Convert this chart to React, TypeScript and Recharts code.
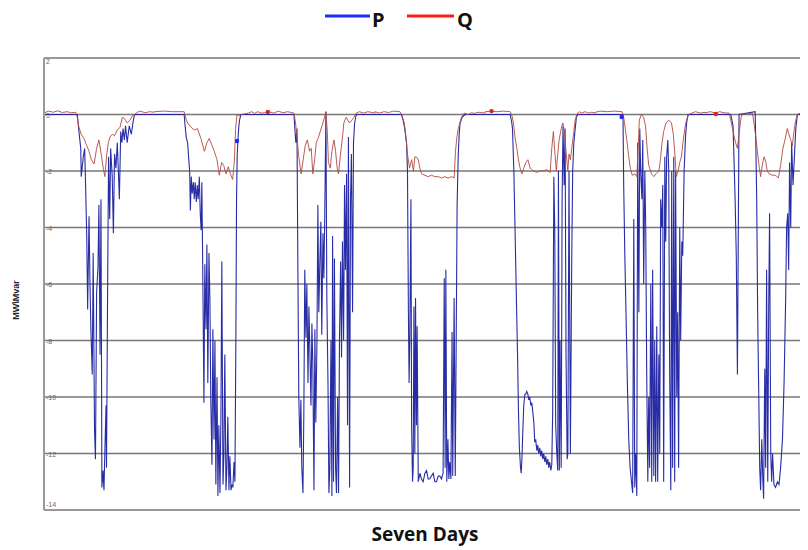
import { LineChart, Line, XAxis, YAxis, CartesianGrid, ReferenceDot } from 'recharts'

// P (MW) per day: [hour of day, value]
const pDay1 = [[0,0],[7.25,0],[7.6,-0.6],[8.0,-1.2],[8.1,-2.2],[8.55,-1.5],[8.85,-1.2],[9.05,-2.5],[9.3,-4.3],[9.5,-6.9],[9.8,-3.6],[10.0,-5.9],[10.2,-7.6],[10.5,-9.2],[10.7,-4.9],[11.0,-11.2],[11.2,-12.2],[11.45,-6.3],[11.75,-5.4],[11.95,-3.2],[12.2,-8.5],[12.4,-3.0],[12.6,-13.2],[12.85,-12.6],[13.05,-13.3],[13.25,-11.9],[13.5,-10.3],[13.6,-12.5],[13.85,-6.0],[14.05,-1.5],[14.3,-3.7],[14.5,-1.2],[14.85,-2.2],[15.1,-4.2],[15.35,-1.4],[15.65,-1.9],[15.95,-1.0],[16.25,-2.3],[16.4,-3.0],[16.7,-0.6],[16.95,-1.0],[17.2,-0.5],[17.5,-0.9],[17.75,-0.4],[18.1,-1.0],[18.55,-0.4],[19.0,-0.7],[19.45,-0.2],[19.7,0],[24,0]]
const pDay2 = [[0,0],[6.5,0],[6.65,-0.3],[6.95,-0.8],[7.25,-1.0],[7.55,-1.7],[7.7,-2.0],[7.85,-3.4],[8.05,-2.2],[8.25,-2.8],[8.5,-2.4],[8.7,-3.0],[8.9,-2.4],[9.15,-3.1],[9.35,-2.5],[9.55,-3.0],[9.8,-2.2],[10.0,-3.5],[10.2,-4.1],[10.35,-2.4],[10.6,-6.4],[10.8,-10.2],[11.0,-5.3],[11.25,-7.6],[11.45,-4.6],[11.65,-9.5],[11.9,-4.9],[12.1,-6.5],[12.3,-10.1],[12.55,-12.4],[12.75,-7.6],[13.0,-11.5],[13.2,-8.0],[13.4,-13.1],[13.65,-9.3],[13.85,-13.5],[14.05,-11.0],[14.3,-13.4],[14.5,-10.7],[14.7,-5.2],[14.95,-13.1],[15.15,-12.0],[15.35,-8.5],[15.6,-13.3],[15.8,-12.5],[16.0,-10.7],[16.25,-13.3],[16.45,-12.1],[16.7,-13.3],[16.9,-13.1],[17.1,-13.2],[17.35,-12.3],[17.55,-13.0],[17.75,-8.0],[17.9,-3.0],[18.05,-1.4],[18.2,-0.95],[18.35,-0.5],[18.55,-0.2],[18.85,0],[24,0]]
const pDay3 = [[0,0],[6.4,0],[6.5,-0.3],[6.8,-1.0],[7.05,-0.5],[7.25,-5.5],[7.45,-10.0],[7.7,-11.8],[7.9,-10.1],[8.1,-12.5],[8.35,-13.4],[8.55,-10.5],[8.75,-5.5],[9.0,-7.9],[9.2,-6.0],[9.45,-9.5],[9.65,-6.8],[9.85,-8.3],[10.1,-10.3],[10.3,-7.4],[10.5,-8.8],[10.75,-13.3],[10.95,-7.6],[11.15,-10.9],[11.4,-8.0],[11.6,-3.2],[11.8,-7.0],[12.05,-5.1],[12.25,-3.8],[12.45,-7.8],[12.7,-4.2],[12.9,-5.8],[13.1,-3.5],[13.35,0.1],[13.55,-6.5],[13.8,-9.5],[14.0,-13.4],[14.2,-12.5],[14.45,-8.0],[14.65,-13.5],[14.8,-4.3],[15.0,-13.0],[15.2,-5.1],[15.45,-12.5],[15.65,-13.4],[15.9,-10.0],[16.1,-13.4],[16.3,-8.0],[16.55,-5.2],[16.75,-8.6],[16.95,-4.5],[17.2,-8.0],[17.4,-2.5],[17.6,-5.5],[17.85,-2.1],[18.05,-11.0],[18.25,-0.8],[18.5,-13.2],[18.7,-3.0],[18.9,-1.4],[19.15,-7.0],[19.35,-1.0],[19.6,-0.3],[19.95,0],[24,0]]
const pDay4 = [[0,0],[5.8,0],[6.15,-0.2],[6.5,-0.5],[6.9,-1.0],[7.1,-2.0],[7.3,-7.0],[7.45,-9.5],[7.6,-8.0],[7.85,-3.0],[8.0,-11.0],[8.2,-13.0],[8.35,-12.5],[8.5,-6.8],[8.7,-12.0],[8.85,-6.5],[9.05,-11.0],[9.2,-7.5],[9.45,-13.0],[9.8,-12.7],[10.15,-12.9],[10.5,-13.0],[10.9,-12.7],[11.25,-12.6],[11.6,-12.9],[11.95,-12.9],[12.3,-12.8],[12.7,-12.7],[13.05,-13.0],[13.4,-13.0],[13.8,-12.8],[14.15,-12.8],[14.5,-12.9],[14.85,-12.7],[15.1,-5.8],[15.3,-12.5],[15.45,-5.5],[15.65,-13.0],[15.9,-11.5],[16.1,-12.9],[16.3,-12.3],[16.55,-12.9],[16.8,-7.7],[16.95,-12.8],[17.25,-6.5],[17.5,-12.8],[17.7,-8.0],[17.9,-3.2],[18.15,-1.4],[18.35,-0.7],[18.55,-0.3],[19.0,-0.1],[19.6,0],[24,0]]
const pDay5 = [[0,0],[5.45,0],[5.8,-0.3],[5.95,-0.5],[6.25,-2.0],[6.5,-4.0],[6.8,-6.5],[7.05,-8.5],[7.25,-10.5],[7.45,-11.8],[7.7,-12.5],[7.85,-12.7],[8.0,-12.2],[8.2,-11.2],[8.4,-10.3],[8.65,-9.9],[8.85,-9.9],[9.05,-9.8],[9.3,-9.9],[9.5,-10.1],[9.7,-10.0],[9.95,-10.3],[10.15,-10.2],[10.35,-10.5],[10.6,-10.9],[10.8,-11.6],[11.0,-11.5],[11.25,-11.9],[11.45,-11.7],[11.65,-12.0],[11.9,-11.8],[12.1,-12.1],[12.3,-11.9],[12.55,-12.2],[12.75,-12.0],[13.0,-12.3],[13.2,-12.1],[13.4,-12.4],[13.65,-12.2],[13.85,-12.5],[14.05,-12.3],[14.3,-12.6],[14.5,-12.4],[14.7,-10.5],[14.95,-2.2],[15.15,-4.0],[15.35,-11.0],[15.6,-12.0],[15.8,-12.6],[15.95,-2.0],[16.15,-12.6],[16.3,-8.0],[16.55,-12.5],[16.75,-3.0],[16.95,-0.4],[17.2,-2.5],[17.4,-0.5],[17.6,-8.5],[17.85,-12.2],[18.0,-12.0],[18.25,-2.0],[18.55,-12.0],[18.85,-5.0],[19.05,-2.0],[19.3,-1.0],[19.6,-0.5],[19.85,-0.1],[20.15,0],[24,0]]
const pDay6 = [[0,0],[6.0,0],[6.15,-2.5],[6.4,-5.0],[6.65,-7.0],[6.95,-9.5],[7.25,-11.5],[7.55,-12.5],[7.85,-13.0],[8.1,-13.4],[8.35,-3.7],[8.55,-13.2],[8.75,-12.0],[9.0,-13.5],[9.2,-1.0],[9.45,-7.0],[9.65,-0.5],[9.85,-2.0],[10.1,-3.0],[10.3,-0.9],[10.5,-6.0],[10.75,-2.0],[10.95,-4.0],[11.15,-9.0],[11.4,-13.0],[11.6,-10.0],[11.8,-12.5],[12.05,-6.0],[12.25,-13.0],[12.45,-5.5],[12.7,-12.8],[12.9,-8.0],[13.1,-13.0],[13.35,-7.5],[13.55,-13.0],[13.8,-8.5],[14.0,-12.0],[14.2,-3.0],[14.45,-4.0],[14.65,-2.5],[14.85,-13.0],[15.1,-1.5],[15.3,-4.5],[15.5,-1.5],[15.75,-0.9],[15.95,-2.0],[16.15,-9.0],[16.4,-13.3],[16.6,-2.0],[16.8,-12.5],[17.05,-1.5],[17.25,-13.0],[17.45,-2.0],[17.7,-10.0],[17.9,-7.0],[18.1,-12.5],[18.35,-4.0],[18.55,-8.0],[18.8,-4.5],[19.0,-5.0],[19.3,-2.0],[19.6,-0.8],[19.85,-0.3],[20.15,0],[24,0]]
const pDay7 = [[0,0],[5.45,0],[5.95,-0.4],[6.4,-3.0],[6.65,-5.0],[6.9,-9.2],[7.25,0],[10.75,0.1],[10.9,-1.0],[11.1,-3.0],[11.3,-7.0],[11.55,-10.0],[11.75,-12.5],[11.95,-13.3],[12.2,-11.5],[12.4,-12.8],[12.6,-13.6],[12.85,-9.0],[13.05,-12.5],[13.25,-5.5],[13.5,-13.0],[13.7,-7.0],[13.9,-3.5],[14.15,-12.0],[14.35,-13.0],[14.55,-12.0],[14.85,-13.1],[15.2,-13.2],[15.6,-13.0],[15.95,-13.1],[16.3,-12.5],[16.7,-11.5],[17.05,-9.5],[17.4,-6.5],[17.6,-4.0],[17.85,-3.5],[18.05,-5.5],[18.25,-1.7],[18.5,-4.0],[18.7,-1.0],[19.0,-2.5],[19.3,-1.5],[19.6,-0.5],[19.95,0],[24,0]]

// Q (Mvar) per day: [hour of day, value]
const qDay1 = [[0,0.05],[1,0.12],[2,0.08],[3,0.13],[4,0.07],[5,0.1],[6,0.06],[6.9,0.08],[7.25,-0.1],[7.6,-0.45],[8.1,-0.7],[8.7,-0.85],[9.3,-1.1],[9.8,-1.3],[10.3,-1.6],[10.9,-1.75],[11.45,-1.2],[11.95,-0.9],[12.45,-1.4],[12.9,-1.9],[13.25,-2.2],[13.6,-1.5],[14.0,-1.0],[14.35,-0.8],[14.85,-0.7],[15.35,-0.75],[15.95,-0.55],[16.55,-0.45],[17.05,-0.1],[17.55,-0.15],[18.1,-0.3],[18.7,-0.2],[19.2,-0.05],[19.7,0],[20.3,0.08],[21,0.12],[22,0.06],[23,0.1],[24,0.08]]
const qDay2 = [[0,0.1],[2,0.12],[4,0.1],[6.5,0.1],[6.9,-0.15],[7.25,-0.3],[8.0,-0.45],[8.7,-0.55],[9.4,-0.5],[10.15,-0.85],[10.9,-1.3],[11.45,-1.0],[11.95,-0.85],[12.45,-1.05],[13.05,-1.3],[13.65,-1.6],[14.15,-2.15],[14.65,-1.7],[15.1,-1.8],[15.6,-2.1],[16.1,-1.85],[16.55,-2.1],[17.05,-2.3],[17.4,-1.7],[17.7,-0.5],[18.0,0],[18.5,-0.05],[19.0,0],[19.6,0.02],[20.5,0.05],[21.2,0.1],[21.8,0.04],[22.5,0.1],[23.2,0.05],[24,0.06]]
const qDay3 = [[0,0.06],[0.9,0.1],[2,0.05],[3,0.12],[4,0.06],[5,0.1],[6.4,0.05],[6.75,-0.3],[7.1,-0.9],[7.45,-1.5],[7.95,-2.1],[8.4,-1.6],[8.85,-1.1],[9.3,-0.9],[9.8,-1.3],[10.15,-1.2],[10.5,-2.1],[10.9,-1.6],[11.25,-1.0],[11.75,-0.8],[12.3,-0.5],[12.7,-0.3],[13.05,-0.1],[13.35,0.1],[13.65,-0.6],[13.9,-1.7],[14.3,-1.9],[14.65,-1.3],[15.1,-0.9],[15.45,-1.3],[15.8,-1.9],[16.1,-2.1],[16.45,-1.5],[16.9,-0.9],[17.25,-0.3],[17.75,-0.1],[18.1,-0.2],[18.5,-0.3],[19.0,-0.2],[19.45,-0.1],[19.95,0.05],[20.65,0.1],[21.5,0.05],[22.5,0.1],[24,0.05]]
const qDay4 = [[0,0.1],[1,0.05],[2,0.1],[3,0.07],[4,0.12],[5.45,0.1],[5.8,0],[6.4,-0.3],[6.75,-0.8],[7.1,-1.4],[7.55,-1.9],[8.0,-1.6],[8.4,-2.0],[8.7,-1.5],[9.05,-1.5],[9.45,-1.6],[9.8,-1.9],[10.15,-2.1],[10.9,-2.15],[11.6,-2.2],[12.3,-2.15],[13.05,-2.2],[13.8,-2.2],[14.5,-2.25],[15.2,-2.2],[15.95,-2.25],[16.7,-2.2],[17.25,-2.25],[17.55,-1.3],[17.85,-0.8],[18.15,-0.5],[18.5,-0.3],[18.85,-0.1],[19.45,0.05],[20.3,0],[21.0,0.06],[21.75,0.04],[22.5,0.08],[24,0.05]]
const qDay5 = [[0,0.1],[1.45,0.12],[2.5,0.1],[4,0.12],[5.45,0.1],[5.8,0],[6.15,-0.3],[6.5,-0.8],[6.9,-1.2],[7.25,-1.6],[7.6,-1.9],[8.0,-2.1],[8.4,-1.9],[8.85,-1.7],[9.3,-1.6],[9.8,-1.9],[10.5,-2.0],[11.25,-2.05],[11.95,-2.0],[12.7,-2.0],[13.4,-1.95],[14.15,-2.05],[14.5,-1.2],[14.85,-0.6],[15.15,-1.3],[15.5,-2.0],[15.8,-1.4],[16.1,-0.9],[16.55,-0.5],[16.9,-0.3],[17.25,-0.6],[17.6,-1.3],[18.0,-2.0],[18.25,-1.4],[18.55,-1.6],[19.0,-1.0],[19.3,-0.6],[19.6,-0.2],[19.95,0],[20.45,0.1],[21.0,0.05],[21.75,0.1],[22.5,0.05],[23.2,0.08],[24,0.05]]
const qDay6 = [[0,0.08],[1,0.12],[2.5,0.1],[4,0.12],[5.8,0.1],[6.15,-0.1],[6.5,-0.5],[6.9,-1.0],[7.25,-1.5],[7.6,-1.9],[8.0,-2.15],[8.55,-2.1],[9.0,-2.2],[9.3,-1.2],[9.55,-0.2],[10.0,0],[10.5,-0.1],[10.9,-0.4],[11.25,-1.2],[11.6,-1.8],[12.2,-2.1],[12.7,-2.2],[13.2,-2.1],[13.8,-2.0],[14.15,-1.6],[14.5,-1.0],[14.85,-0.6],[15.35,-0.3],[15.95,-0.2],[16.55,-0.3],[16.95,-0.7],[17.25,-1.3],[17.6,-2.2],[18.0,-2.0],[18.35,-1.7],[18.7,-1.5],[19.05,-1.0],[19.45,-0.5],[19.8,-0.2],[20.3,0],[21.0,0.05],[21.75,0.1],[22.85,0.05],[24,0.08]]
const qDay7 = [[0,0.06],[1,0.1],[2.2,0.05],[3,0.1],[4,0.06],[5.1,0.05],[5.45,-0.2],[5.95,-0.6],[6.5,-1.0],[6.9,-1.2],[7.25,-0.7],[7.7,-0.1],[8.0,0],[9.0,0.02],[10.15,0.05],[10.5,-0.3],[10.9,-0.8],[11.25,-1.3],[11.6,-1.8],[11.95,-2.2],[12.3,-1.8],[12.7,-1.5],[13.05,-1.65],[13.4,-2.0],[13.8,-2.1],[14.5,-2.15],[15.2,-2.15],[15.8,-2.25],[16.3,-1.8],[16.8,-1.2],[17.25,-0.9],[17.75,-0.5],[18.1,-0.7],[18.5,-0.9],[18.85,-1.1],[19.2,-0.6],[19.6,-0.2],[19.95,0],[20.6,0.05],[21.5,0.1],[22.5,0.06],[24,0.05]]

const pDays = [pDay1, pDay2, pDay3, pDay4, pDay5, pDay6, pDay7]
const qDays = [qDay1, qDay2, qDay3, qDay4, qDay5, qDay6, qDay7]

// cursor markers seen on the plot: [hour of week, value]
const pMarkers = [[42.0, -0.94], [125.7, -0.09]]
const qMarkers = [[48.7, 0.09], [97.4, 0.12], [146.2, 0.02]]

const dayTicks = [0, 24, 48, 72, 96, 120, 144, 168]
const valueTicks = [2, 0, -2, -4, -6, -8, -10, -12, -14]

const toSeries = (days: number[][][]) =>
  days.flatMap((d, i) => d.map(([h, v]) => ({ t: i * 24 + h, v })))

const pData = toSeries(pDays)
const qData = toSeries(qDays)

const renderYTick = (props: any) => {
  const { x, y, payload } = props
  const v = payload.value
  const dy = v === 2 ? 6 : v === -14 ? -3 : 3
  return (
    <text x={x + 2} y={y + dy} fontSize={7} fill="#666" fontFamily="Liberation Sans">
      {v}
    </text>
  )
}

export default function App() {
  return (
    <div
      style={{
        position: 'relative',
        width: 808,
        height: 550,
        marginTop: -8,
        marginLeft: -8,
        overflow: 'hidden',
      }}
    >
      <LineChart
        width={816}
        height={550}
        margin={{ top: 58, right: 0, bottom: 40, left: 0 }}
      >
        <CartesianGrid vertical={false} stroke="#777" strokeWidth={1.3} />
        <CartesianGrid horizontal={false} stroke="#444" strokeWidth={1} />
        <XAxis
          dataKey="t"
          type="number"
          domain={[0, 168]}
          ticks={dayTicks}
          allowDataOverflow
          height={0}
          tick={false}
          tickLine={false}
          axisLine={false}
        />
        <YAxis
          type="number"
          domain={[-14, 2]}
          ticks={valueTicks}
          interval={0}
          width={44}
          tickSize={0}
          tickMargin={0}
          tickLine={false}
          axisLine={{ stroke: '#999', strokeWidth: 2 }}
          tick={renderYTick}
        />
        <Line
          data={pData}
          dataKey="v"
          type="linear"
          stroke="#1c22a0"
          strokeOpacity={0.95}
          strokeWidth={1.1}
          dot={false}
          isAnimationActive={false}
        />
        <Line
          data={qData}
          dataKey="v"
          type="linear"
          stroke="#b34a44"
          strokeOpacity={0.9}
          strokeWidth={1}
          dot={false}
          isAnimationActive={false}
        />
        {pMarkers.map(([t, v], i) => (
          <ReferenceDot key={'p' + i} x={t} y={v} r={2.2} fill="#1a2bff" stroke="none" />
        ))}
        {qMarkers.map(([t, v], i) => (
          <ReferenceDot key={'q' + i} x={t} y={v} r={2.2} fill="#e02020" stroke="none" />
        ))}
      </LineChart>
      <svg
        width={808}
        height={550}
        style={{ position: 'absolute', left: 0, top: 0, pointerEvents: 'none' }}
      >
        <line x1={325} y1={16} x2={370} y2={16} stroke="#1a2bff" strokeWidth={3} />
        <text x={372} y={27} fontSize={20} fontWeight="bold" fontFamily="Open Sans" fill="#111">P</text>
        <line x1={407} y1={16} x2={454} y2={16} stroke="#ff1a1a" strokeWidth={3} />
        <text x={457} y={27} fontSize={20} fontWeight="bold" fontFamily="Open Sans" fill="#111">Q</text>
        <text
          x={17}
          y={300}
          transform="rotate(-90 17 300)"
          textAnchor="middle"
          dominantBaseline="middle"
          fontSize={9}
          fontWeight="bold"
          fontFamily="Liberation Sans"
          fill="#222"
        >
          {'MW\\Mvar'}
        </text>
        <text x={425} y={541} textAnchor="middle" fontSize={19} fontWeight="bold" fontFamily="Open Sans" fill="#111">
          Seven Days
        </text>
      </svg>
    </div>
  )
}
